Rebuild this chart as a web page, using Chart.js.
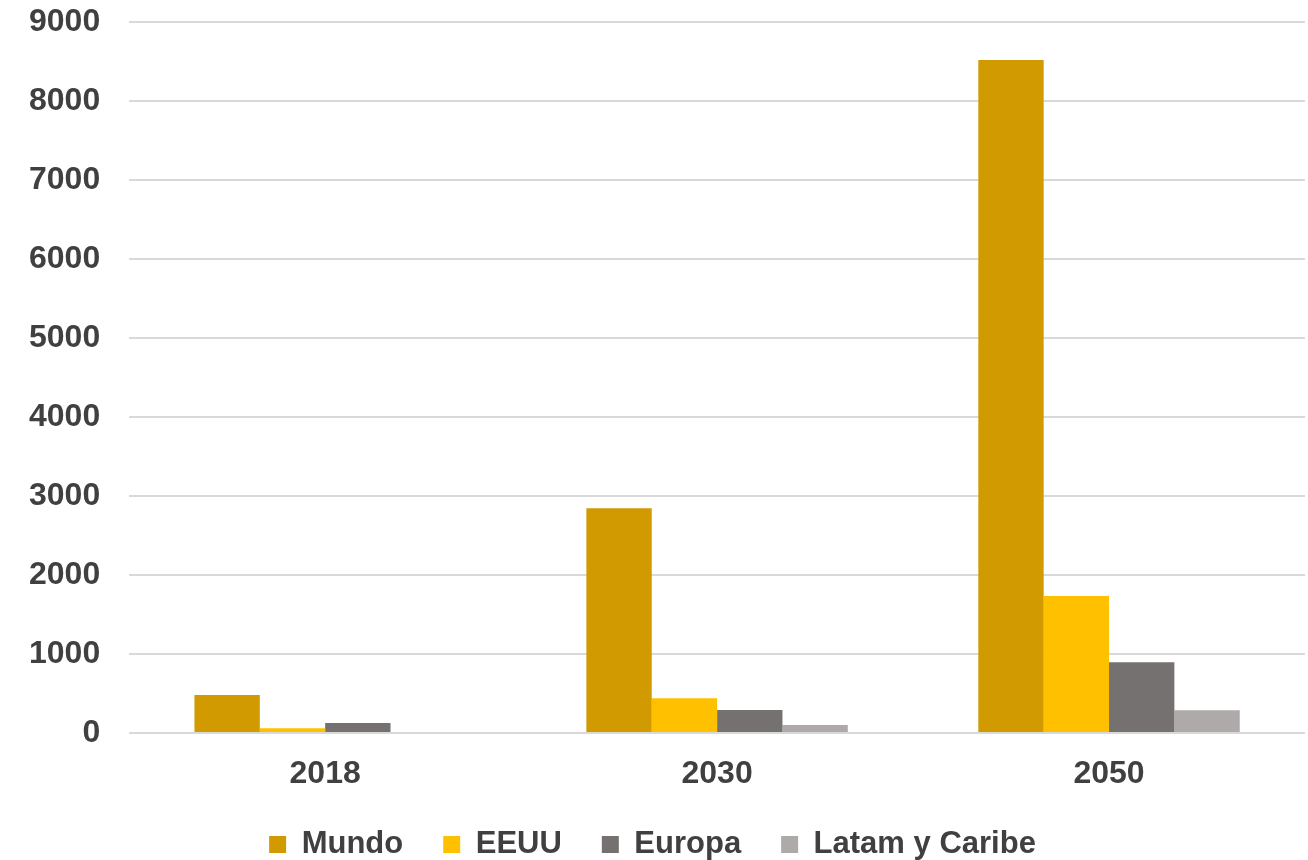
<!DOCTYPE html>
<html>
<head>
<meta charset="utf-8">
<script src="https://cdn.jsdelivr.net/npm/chart.js@4"></script>
<style>
  html, body { margin: 0; padding: 0; background: #fff; }
  #wrap { width: 1308px; height: 860px; }
</style>
</head>
<body>
<div id="wrap"><canvas id="myChart"></canvas></div>
<script>
const years = ['2018', '2030', '2050'];
const mundo = [481, 2844, 8519];
const eeuu = [60, 439, 1734];
const europa = [127, 291, 895];
const latam = [0, 101, 287];

const textColor = '#404040';
const family = "'Liberation Sans', Arial, sans-serif";
const tickFont = { family: family, weight: 'bold', size: 32, lineHeight: 1 };
const legendFont = { family: family, weight: 'bold', size: 31 };

// keep the legend row compact vertically while leaving wide gaps between items
const legendHeight = {
    id: 'legendHeight',
    beforeInit(chart) {
        const fit = chart.legend.fit;
        chart.legend.fit = function () {
            fit.call(this);
            this.height = 71;
        };
    }
};

function plotChart() {
    const ctx = document.getElementById('myChart');

    new Chart(ctx, {
    type: 'bar',
    data: {
        labels: years,
        datasets: [
            { label: 'Mundo', data: mundo, backgroundColor: '#D09A00' },
            { label: 'EEUU', data: eeuu, backgroundColor: '#FFC000' },
            { label: 'Europa', data: europa, backgroundColor: '#767171' },
            { label: 'Latam y Caribe', data: latam, backgroundColor: '#AEAAAA' }
        ]
    },
    options: {
        responsive: true,
        maintainAspectRatio: false,
        animation: false,
        datasets: {
            bar: { categoryPercentage: 0.667, barPercentage: 1.0 }
        },
        layout: { padding: { top: 6, right: 3, left: 0, bottom: 0 } },
        plugins: {
            tooltip: { enabled: false },
            legend: {
                position: 'bottom',
                labels: {
                    color: textColor,
                    font: legendFont,
                    boxWidth: 17,
                    boxHeight: 17,
                    padding: 40
                }
            }
        },
        scales: {
            x: {
                grid: { display: false, drawTicks: false },
                border: { display: false },
                ticks: { color: textColor, font: tickFont, padding: 25 },
                afterFit: function (scale) { scale.height = 56; }
            },
            y: {
                min: 0,
                max: 9000,
                grid: { color: '#d9d9d9', lineWidth: 2, drawTicks: false },
                border: { display: false },
                ticks: {
                    stepSize: 1000,
                    color: textColor,
                    font: tickFont,
                    padding: 29,
                    callback: function (value) { return String(value); }
                },
                afterFit: function (scale) {
                    scale.paddingTop = 22;
                    scale.paddingBottom = 16;
                }
            }
        }
    },
    plugins: [legendHeight]
    });
}

plotChart();
</script>
</body>
</html>
